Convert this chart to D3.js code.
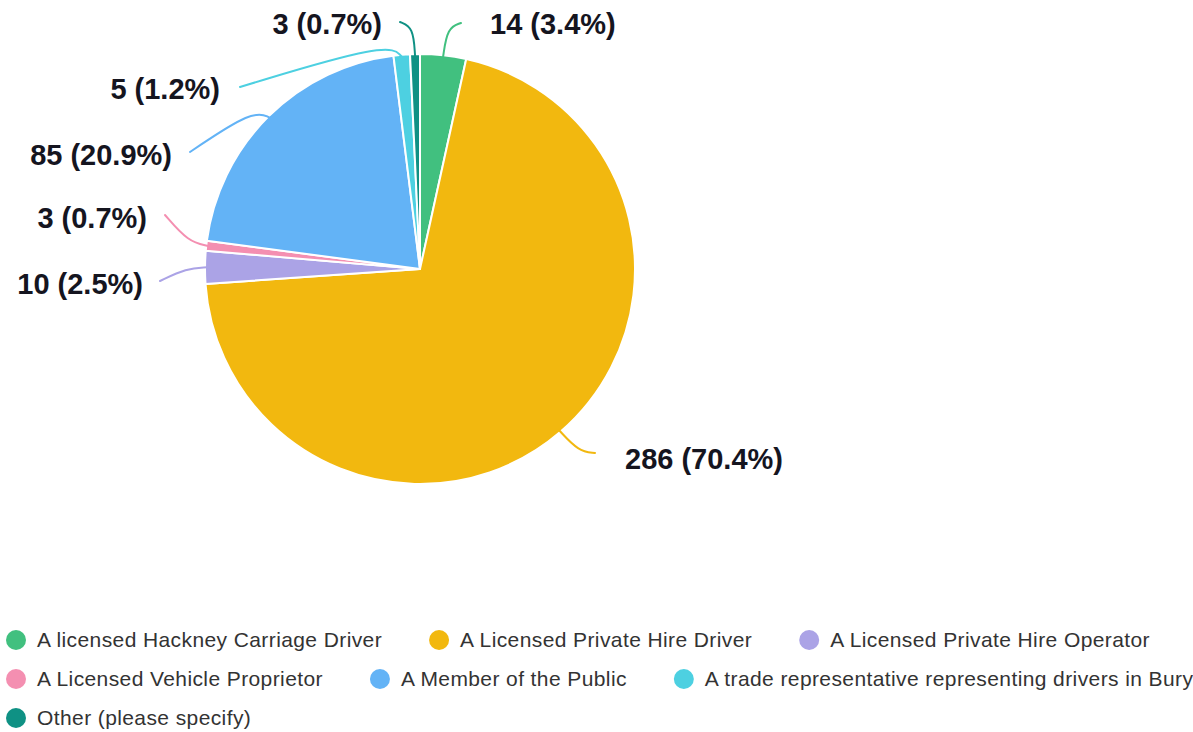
<!DOCTYPE html>
<html>
<head>
<meta charset="utf-8">
<script src="https://cdn.jsdelivr.net/npm/d3@7"></script>
<style>
  body { margin: 0; background: #fff; }
  svg { display: block; }
  .pct { font-family: "Liberation Sans", Arial, sans-serif; font-weight: bold; font-size: 29px; fill: #15151f; }
  .leg { font-family: "Liberation Sans", Arial, sans-serif; font-size: 21px; letter-spacing: 0.4px; fill: #333; }
</style>
</head>
<body>
<div id="chart"></div>
<script>
var categories = [
  "A licensed Hackney Carriage Driver",
  "A Licensed Private Hire Driver",
  "A Licensed Private Hire Operator",
  "A Licensed Vehicle Proprietor",
  "A Member of the Public",
  "A trade representative representing drivers in Bury",
  "Other (please specify)"
];
var counts = [14, 286, 10, 3, 85, 5, 3];
var percentLabels = ["3.4%", "70.4%", "2.5%", "0.7%", "20.9%", "1.2%", "0.7%"];
var colors = ["#41c07f", "#f2b80f", "#aba3e6", "#f48fb1", "#63b3f6", "#4dd0e1", "#0f9184"];

// label layout: elbow distance past the rim, line end point, text side
var labelLayout = [
  { elbow: 30, end: [461, 23], tx: 490, ty: 24, anchor: "start" },
  { elbow: 28, end: [595, 453], tx: 625, ty: 459, anchor: "start" },
  { elbow: 18, end: [160, 281], tx: 143, ty: 284, anchor: "end" },
  { elbow: 18, end: [165, 215], tx: 147, ty: 218, anchor: "end" },
  { elbow: 16, end: [190, 152], tx: 172, ty: 155, anchor: "end" },
  { elbow: 18, end: [240, 87], tx: 220, ty: 89, anchor: "end" },
  { elbow: 29, end: [400, 22], tx: 382, ty: 24, anchor: "end" }
];

var width = 1193, height = 732;
var cx = 420, cy = 269, radius = 215;

var svg = d3.select("#chart")
  .append("svg")
  .attr("width", width)
  .attr("height", height);

var pie = d3.pie().sort(null).value(function(d) { return d; });
var arcs = pie(counts);

var arc = d3.arc().innerRadius(0).outerRadius(radius);
var color = d3.scaleOrdinal().domain(categories).range(colors);

var g = svg.append("g")
  .attr("transform", "translate(" + cx + "," + cy + ")");

g.selectAll("path.slice")
  .data(arcs)
  .enter().append("path")
  .attr("class", "slice")
  .attr("d", arc)
  .attr("fill", function(d, i) { return color(categories[i]); })
  .attr("stroke", "#fff")
  .attr("stroke-width", 2)
  .attr("stroke-linejoin", "round");

// leader lines
function polar(a, r) {
  return [cx + r * Math.sin(a), cy - r * Math.cos(a)];
}
var leader = d3.line().curve(d3.curveBundle.beta(0.85));

svg.selectAll("path.leader")
  .data(arcs)
  .enter().append("path")
  .attr("class", "leader")
  .attr("d", function(d, i) {
    var mid = (d.startAngle + d.endAngle) / 2;
    var L = labelLayout[i];
    var p0 = polar(mid, radius - 2);
    var p1 = polar(mid, radius + L.elbow);
    return leader([p0, p1, L.end]);
  })
  .attr("fill", "none")
  .attr("stroke", function(d, i) { return color(categories[i]); })
  .attr("stroke-width", 2)
  .attr("stroke-linecap", "round");

svg.selectAll("text.pct")
  .data(arcs)
  .enter().append("text")
  .attr("class", "pct")
  .attr("x", function(d, i) { return labelLayout[i].tx; })
  .attr("y", function(d, i) { return labelLayout[i].ty; })
  .attr("dy", "0.35em")
  .attr("text-anchor", function(d, i) { return labelLayout[i].anchor; })
  .text(function(d, i) { return counts[i] + " (" + percentLabels[i] + ")"; });

// legend, flowing left to right and wrapping
var legend = svg.append("g").attr("class", "legend");
var lx = 6, ly = 640, rowH = 39, gap = 47;
categories.forEach(function(c, i) {
  var item = legend.append("g");
  item.append("circle")
    .attr("r", 10)
    .attr("cx", 10)
    .attr("cy", 0)
    .attr("fill", color(c));
  var t = item.append("text")
    .attr("class", "leg")
    .attr("x", 31)
    .attr("y", 0)
    .attr("dy", "0.35em")
    .text(c);
  var w = 31 + t.node().getComputedTextLength();
  if (lx + w > width + 12 && lx > 6) {
    lx = 6;
    ly += rowH;
  }
  item.attr("transform", "translate(" + lx + "," + ly + ")");
  lx += w + gap;
});
</script>
</body>
</html>
